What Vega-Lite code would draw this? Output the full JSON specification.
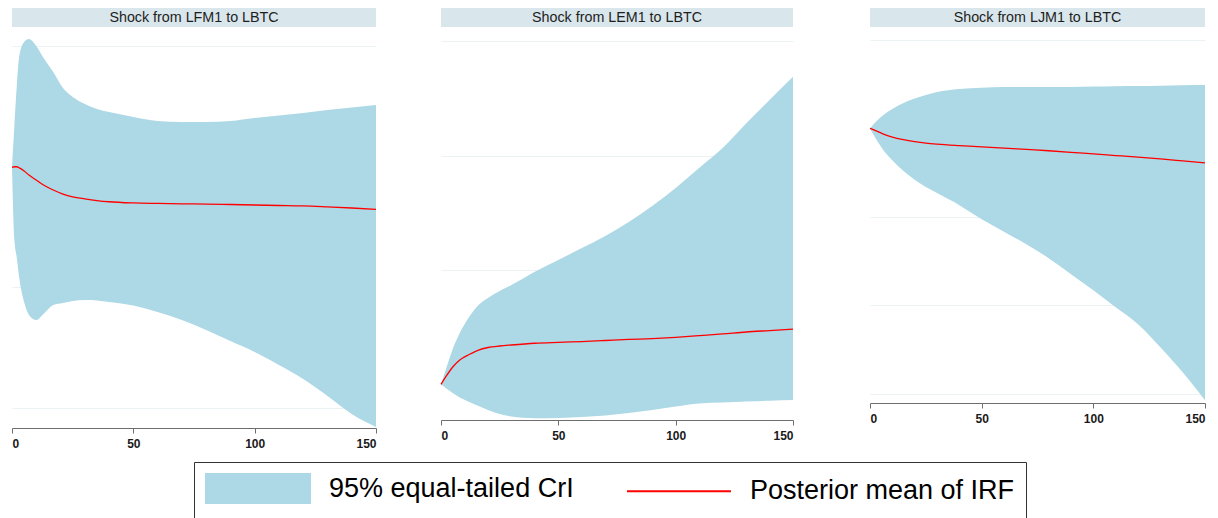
{
  "$schema": "https://vega.github.io/schema/vega-lite/v6.json",
  "padding": {"left": 9, "top": 8, "right": 0, "bottom": 0},
  "background": "white",
  "config": {"font": "Liberation Sans", "view": {"stroke": null}},
  "datasets": {
    "p1": [
      {"t": 0, "lo": 1.997, "hi": 1.997, "mean": 1.994},
      {"t": 1, "lo": 1.392, "hi": 2.345, "mean": 1.999},
      {"t": 2, "lo": 1.243, "hi": 2.676, "mean": 1.999},
      {"t": 3, "lo": 1.077, "hi": 2.916, "mean": 1.99},
      {"t": 5, "lo": 0.878, "hi": 3.032, "mean": 1.964},
      {"t": 7, "lo": 0.771, "hi": 3.057, "mean": 1.93},
      {"t": 10, "lo": 0.729, "hi": 2.999, "mean": 1.889},
      {"t": 13, "lo": 0.779, "hi": 2.9, "mean": 1.848},
      {"t": 17, "lo": 0.853, "hi": 2.784, "mean": 1.806},
      {"t": 21, "lo": 0.87, "hi": 2.651, "mean": 1.773},
      {"t": 25, "lo": 0.886, "hi": 2.577, "mean": 1.75},
      {"t": 30, "lo": 0.895, "hi": 2.519, "mean": 1.733},
      {"t": 35, "lo": 0.891, "hi": 2.477, "mean": 1.719},
      {"t": 40, "lo": 0.878, "hi": 2.452, "mean": 1.709},
      {"t": 50, "lo": 0.849, "hi": 2.411, "mean": 1.699},
      {"t": 60, "lo": 0.795, "hi": 2.378, "mean": 1.695},
      {"t": 70, "lo": 0.729, "hi": 2.37, "mean": 1.692},
      {"t": 80, "lo": 0.646, "hi": 2.37, "mean": 1.69},
      {"t": 90, "lo": 0.555, "hi": 2.378, "mean": 1.686},
      {"t": 100, "lo": 0.464, "hi": 2.403, "mean": 1.682},
      {"t": 110, "lo": 0.356, "hi": 2.423, "mean": 1.678},
      {"t": 120, "lo": 0.24, "hi": 2.444, "mean": 1.674},
      {"t": 130, "lo": 0.099, "hi": 2.469, "mean": 1.666},
      {"t": 140, "lo": -0.05, "hi": 2.49, "mean": 1.657},
      {"t": 150, "lo": -0.157, "hi": 2.51, "mean": 1.646}
    ],
    "p2": [
      {"t": 0, "lo": 0.006, "hi": 0.006, "mean": 0.006},
      {"t": 2, "lo": -0.026, "hi": 0.131, "mean": 0.07},
      {"t": 5, "lo": -0.07, "hi": 0.314, "mean": 0.157},
      {"t": 8, "lo": -0.109, "hi": 0.453, "mean": 0.218},
      {"t": 12, "lo": -0.148, "hi": 0.593, "mean": 0.266},
      {"t": 16, "lo": -0.183, "hi": 0.697, "mean": 0.305},
      {"t": 20, "lo": -0.218, "hi": 0.758, "mean": 0.327},
      {"t": 25, "lo": -0.253, "hi": 0.82, "mean": 0.34},
      {"t": 30, "lo": -0.275, "hi": 0.872, "mean": 0.349},
      {"t": 40, "lo": -0.29, "hi": 0.988, "mean": 0.364},
      {"t": 50, "lo": -0.288, "hi": 1.09, "mean": 0.372},
      {"t": 60, "lo": -0.279, "hi": 1.194, "mean": 0.379},
      {"t": 70, "lo": -0.266, "hi": 1.299, "mean": 0.388},
      {"t": 80, "lo": -0.244, "hi": 1.421, "mean": 0.397},
      {"t": 90, "lo": -0.218, "hi": 1.561, "mean": 0.405},
      {"t": 100, "lo": -0.187, "hi": 1.718, "mean": 0.416},
      {"t": 110, "lo": -0.161, "hi": 1.892, "mean": 0.43},
      {"t": 120, "lo": -0.153, "hi": 2.066, "mean": 0.445},
      {"t": 130, "lo": -0.144, "hi": 2.28, "mean": 0.462},
      {"t": 140, "lo": -0.137, "hi": 2.485, "mean": 0.475},
      {"t": 150, "lo": -0.131, "hi": 2.688, "mean": 0.488}
    ],
    "p3": [
      {"t": 0, "lo": 3.0, "hi": 3.0, "mean": 3.0},
      {"t": 3, "lo": 2.868, "hi": 3.083, "mean": 2.97},
      {"t": 6, "lo": 2.754, "hi": 3.151, "mean": 2.936},
      {"t": 10, "lo": 2.641, "hi": 3.219, "mean": 2.902},
      {"t": 15, "lo": 2.517, "hi": 3.287, "mean": 2.873},
      {"t": 20, "lo": 2.42, "hi": 3.337, "mean": 2.851},
      {"t": 25, "lo": 2.336, "hi": 3.377, "mean": 2.834},
      {"t": 30, "lo": 2.268, "hi": 3.411, "mean": 2.822},
      {"t": 40, "lo": 2.132, "hi": 3.445, "mean": 2.805},
      {"t": 50, "lo": 1.973, "hi": 3.46, "mean": 2.791},
      {"t": 60, "lo": 1.832, "hi": 3.468, "mean": 2.777},
      {"t": 70, "lo": 1.69, "hi": 3.468, "mean": 2.762},
      {"t": 80, "lo": 1.532, "hi": 3.468, "mean": 2.747},
      {"t": 90, "lo": 1.351, "hi": 3.468, "mean": 2.73},
      {"t": 100, "lo": 1.169, "hi": 3.473, "mean": 2.711},
      {"t": 110, "lo": 0.977, "hi": 3.477, "mean": 2.693},
      {"t": 120, "lo": 0.785, "hi": 3.479, "mean": 2.675},
      {"t": 130, "lo": 0.524, "hi": 3.482, "mean": 2.655},
      {"t": 140, "lo": 0.241, "hi": 3.487, "mean": 2.633},
      {"t": 150, "lo": -0.076, "hi": 3.49, "mean": 2.611}
    ]
  },
  "spacing": 59,
  "hconcat": [
    {
      "spacing": 0,
      "vconcat": [
        {
          "width": 364, "height": 19,
          "view": {"fill": "#d9e6eb", "stroke": null},
          "data": {"values": [{"title": "Shock from LFM1 to LBTC"}]},
          "mark": {"type": "text", "fontSize": 14.3, "font": "Liberation Sans", "color": "#1e1e1e"},
          "encoding": {"text": {"field": "title"}}
        },
        {
          "width": 364, "height": 401,
          "view": {"fill": "white", "stroke": null},
          "data": {"name": "p1"},
          "layer": [
            {
              "mark": {"type": "area", "interpolate": "monotone", "opacity": 1},
              "encoding": {
                "x": {"field": "t", "type": "quantitative", "scale": {"domain": [0, 150], "nice": false},
                      "axis": {"values": [0, 50, 100, 150], "title": null, "grid": false, "domainColor": "#6e6e6e", "tickColor": "#6e6e6e", "tickSize": 5, "labelFont": "Liberation Sans", "labelFontWeight": "bold", "labelFontSize": 12, "labelColor": "#1a1a1a", "labelPadding": 5}},
                "y": {"field": "lo", "type": "quantitative", "scale": {"domain": [-0.166, 3.157], "nice": false, "zero": false},
                      "axis": {"values": [0, 1, 2, 3], "title": null, "labels": false, "ticks": false, "domain": false, "grid": true, "gridColor": "#eaf2f3", "gridWidth": 1}},
                "y2": {"field": "hi"},
                "color": {"datum": "95% equal-tailed CrI",
                          "scale": {"domain": ["95% equal-tailed CrI", "Posterior mean of IRF"], "range": ["#add8e6", "#ff0000"]},
                          "legend": {
                            "orient": "none", "legendX": 182, "legendY": 454,
                            "direction": "horizontal", "title": null,
                            "symbolSize": 841, "labelOffset": 93, "columnPadding": 49,
                            "labelFont": "Liberation Sans", "labelFontSize": 27, "labelColor": "#000000", "labelLimit": 1000,
                            "padding": 11, "strokeColor": "#333333", "fillColor": "#ffffff",
                            "encode": {"symbols": {"update": {
                              "shape": {"signal": "datum.value === 'Posterior mean of IRF' ? 'M-1,0H6.17' : 'M-1,-1H6.17V1H-1Z'"},
                              "fill": {"signal": "datum.value === 'Posterior mean of IRF' ? 'transparent' : '#add8e6'"},
                              "stroke": {"signal": "datum.value === 'Posterior mean of IRF' ? '#ff0000' : 'transparent'"},
                              "strokeWidth": {"value": 2},
                              "opacity": {"value": 1}
                            }}}
                          }}
              }
            },
            {
              "mark": {"type": "line", "interpolate": "monotone", "strokeWidth": 1.3},
              "encoding": {
                "x": {"field": "t", "type": "quantitative"},
                "y": {"field": "mean", "type": "quantitative"},
                "color": {"datum": "Posterior mean of IRF",
                          "legend": {
                            "orient": "none", "legendX": 182, "legendY": 454,
                            "direction": "horizontal", "title": null,
                            "symbolSize": 841, "labelOffset": 93, "columnPadding": 49,
                            "labelFont": "Liberation Sans", "labelFontSize": 27, "labelColor": "#000000", "labelLimit": 1000,
                            "padding": 11, "strokeColor": "#333333", "fillColor": "#ffffff",
                            "encode": {"symbols": {"update": {
                              "shape": {"signal": "datum.value === 'Posterior mean of IRF' ? 'M-1,0H6.17' : 'M-1,-1H6.17V1H-1Z'"},
                              "fill": {"signal": "datum.value === 'Posterior mean of IRF' ? 'transparent' : '#add8e6'"},
                              "stroke": {"signal": "datum.value === 'Posterior mean of IRF' ? '#ff0000' : 'transparent'"},
                              "strokeWidth": {"value": 2},
                              "opacity": {"value": 1}
                            }}}
                          }}
              }
            }
          ]
        }
      ]
    },
    {
      "spacing": 71,
      "hconcat": [
        {
          "spacing": 0,
          "vconcat": [
            {
              "width": 352, "height": 19,
              "view": {"fill": "#d9e6eb", "stroke": null},
              "data": {"values": [{"title": "Shock from LEM1 to LBTC"}]},
              "mark": {"type": "text", "fontSize": 14.3, "font": "Liberation Sans", "color": "#1e1e1e"},
              "encoding": {"text": {"field": "title"}}
            },
            {
              "width": 352, "height": 393,
              "view": {"fill": "white", "stroke": null},
              "data": {"name": "p2"},
              "layer": [
                {
                  "mark": {"type": "area", "interpolate": "monotone", "opacity": 1},
                  "encoding": {
                    "x": {"field": "t", "type": "quantitative", "scale": {"domain": [0, 150], "nice": false},
                          "axis": {"values": [0, 50, 100, 150], "title": null, "grid": false, "domainColor": "#6e6e6e", "tickColor": "#6e6e6e", "tickSize": 5, "labelFont": "Liberation Sans", "labelFontWeight": "bold", "labelFontSize": 12, "labelColor": "#1a1a1a", "labelPadding": 5}},
                    "y": {"field": "lo", "type": "quantitative", "scale": {"domain": [-0.305, 3.121], "nice": false, "zero": false},
                          "axis": {"values": [0, 1, 2, 3], "title": null, "labels": false, "ticks": false, "domain": false, "grid": true, "gridColor": "#eaf2f3", "gridWidth": 1}},
                    "y2": {"field": "hi"},
                    "color": {"datum": "95% equal-tailed CrI",
                          "legend": {
                            "orient": "none", "legendX": 182, "legendY": 454,
                            "direction": "horizontal", "title": null,
                            "symbolSize": 841, "labelOffset": 93, "columnPadding": 49,
                            "labelFont": "Liberation Sans", "labelFontSize": 27, "labelColor": "#000000", "labelLimit": 1000,
                            "padding": 11, "strokeColor": "#333333", "fillColor": "#ffffff",
                            "encode": {"symbols": {"update": {
                              "shape": {"signal": "datum.value === 'Posterior mean of IRF' ? 'M-1,0H6.17' : 'M-1,-1H6.17V1H-1Z'"},
                              "fill": {"signal": "datum.value === 'Posterior mean of IRF' ? 'transparent' : '#add8e6'"},
                              "stroke": {"signal": "datum.value === 'Posterior mean of IRF' ? '#ff0000' : 'transparent'"},
                              "strokeWidth": {"value": 2},
                              "opacity": {"value": 1}
                            }}}
                          }}
                  }
                },
                {
                  "mark": {"type": "line", "interpolate": "monotone", "strokeWidth": 1.3},
                  "encoding": {
                    "x": {"field": "t", "type": "quantitative"},
                    "y": {"field": "mean", "type": "quantitative"},
                    "color": {"datum": "Posterior mean of IRF",
                          "legend": {
                            "orient": "none", "legendX": 182, "legendY": 454,
                            "direction": "horizontal", "title": null,
                            "symbolSize": 841, "labelOffset": 93, "columnPadding": 49,
                            "labelFont": "Liberation Sans", "labelFontSize": 27, "labelColor": "#000000", "labelLimit": 1000,
                            "padding": 11, "strokeColor": "#333333", "fillColor": "#ffffff",
                            "encode": {"symbols": {"update": {
                              "shape": {"signal": "datum.value === 'Posterior mean of IRF' ? 'M-1,0H6.17' : 'M-1,-1H6.17V1H-1Z'"},
                              "fill": {"signal": "datum.value === 'Posterior mean of IRF' ? 'transparent' : '#add8e6'"},
                              "stroke": {"signal": "datum.value === 'Posterior mean of IRF' ? '#ff0000' : 'transparent'"},
                              "strokeWidth": {"value": 2},
                              "opacity": {"value": 1}
                            }}}
                          }}
                  }
                }
              ]
            }
          ]
        },
        {
          "spacing": 0,
          "vconcat": [
            {
              "width": 335, "height": 19,
              "view": {"fill": "#d9e6eb", "stroke": null},
              "data": {"values": [{"title": "Shock from LJM1 to LBTC"}]},
              "mark": {"type": "text", "fontSize": 14.3, "font": "Liberation Sans", "color": "#1e1e1e"},
              "encoding": {"text": {"field": "title"}}
            },
            {
              "width": 335, "height": 376,
              "view": {"fill": "white", "stroke": null},
              "data": {"name": "p3"},
              "layer": [
                {
                  "mark": {"type": "area", "interpolate": "monotone", "opacity": 1},
                  "encoding": {
                    "x": {"field": "t", "type": "quantitative", "scale": {"domain": [0, 150], "nice": false},
                          "axis": {"values": [0, 50, 100, 150], "title": null, "grid": false, "domainColor": "#6e6e6e", "tickColor": "#6e6e6e", "tickSize": 5, "labelFont": "Liberation Sans", "labelFontWeight": "bold", "labelFontSize": 12, "labelColor": "#1a1a1a", "labelPadding": 5}},
                    "y": {"field": "lo", "type": "quantitative", "scale": {"domain": [-0.106, 4.147], "nice": false, "zero": false},
                          "axis": {"values": [0, 1, 2, 3, 4], "title": null, "labels": false, "ticks": false, "domain": false, "grid": true, "gridColor": "#eaf2f3", "gridWidth": 1}},
                    "y2": {"field": "hi"},
                    "color": {"datum": "95% equal-tailed CrI",
                          "legend": {
                            "orient": "none", "legendX": 182, "legendY": 454,
                            "direction": "horizontal", "title": null,
                            "symbolSize": 841, "labelOffset": 93, "columnPadding": 49,
                            "labelFont": "Liberation Sans", "labelFontSize": 27, "labelColor": "#000000", "labelLimit": 1000,
                            "padding": 11, "strokeColor": "#333333", "fillColor": "#ffffff",
                            "encode": {"symbols": {"update": {
                              "shape": {"signal": "datum.value === 'Posterior mean of IRF' ? 'M-1,0H6.17' : 'M-1,-1H6.17V1H-1Z'"},
                              "fill": {"signal": "datum.value === 'Posterior mean of IRF' ? 'transparent' : '#add8e6'"},
                              "stroke": {"signal": "datum.value === 'Posterior mean of IRF' ? '#ff0000' : 'transparent'"},
                              "strokeWidth": {"value": 2},
                              "opacity": {"value": 1}
                            }}}
                          }}
                  }
                },
                {
                  "mark": {"type": "line", "interpolate": "monotone", "strokeWidth": 1.3},
                  "encoding": {
                    "x": {"field": "t", "type": "quantitative"},
                    "y": {"field": "mean", "type": "quantitative"},
                    "color": {"datum": "Posterior mean of IRF",
                          "legend": {
                            "orient": "none", "legendX": 182, "legendY": 454,
                            "direction": "horizontal", "title": null,
                            "symbolSize": 841, "labelOffset": 93, "columnPadding": 49,
                            "labelFont": "Liberation Sans", "labelFontSize": 27, "labelColor": "#000000", "labelLimit": 1000,
                            "padding": 11, "strokeColor": "#333333", "fillColor": "#ffffff",
                            "encode": {"symbols": {"update": {
                              "shape": {"signal": "datum.value === 'Posterior mean of IRF' ? 'M-1,0H6.17' : 'M-1,-1H6.17V1H-1Z'"},
                              "fill": {"signal": "datum.value === 'Posterior mean of IRF' ? 'transparent' : '#add8e6'"},
                              "stroke": {"signal": "datum.value === 'Posterior mean of IRF' ? '#ff0000' : 'transparent'"},
                              "strokeWidth": {"value": 2},
                              "opacity": {"value": 1}
                            }}}
                          }}
                  }
                }
              ]
            }
          ]
        }
      ]
    }
  ]
}
